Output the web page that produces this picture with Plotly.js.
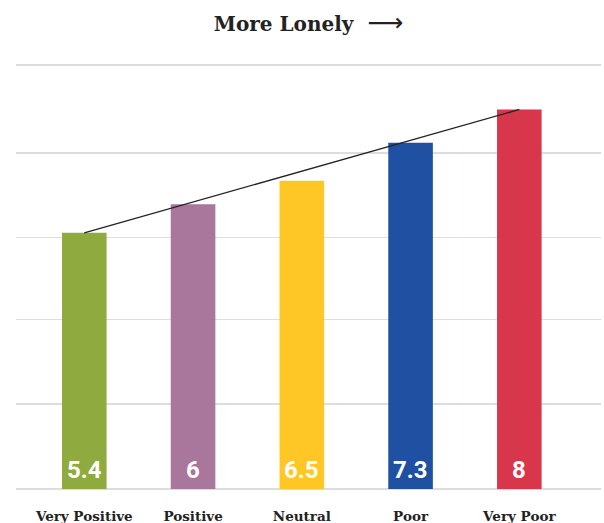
<!DOCTYPE html>
<html>
<head>
<meta charset="utf-8">
<script src="https://cdn.plot.ly/plotly-3.0.1.min.js"></script>
<style>html,body{margin:0;padding:0;background:#fff;}#chart{width:604px;height:523px;}</style>
</head>
<body>
<div id="chart"></div>
<script>
const categories = ["Very Positive", "Positive", "Neutral", "Poor", "Very Poor"];
const values = [5.4, 6, 6.5, 7.3, 8];
const barColors = ["#8FAA3E", "#A9769C", "#FFC726", "#1F50A2", "#D8364A"];
const gridVals = [0, 1.79, 3.57, 5.30, 7.08, 8.94];
const titleText = "More Lonely\u00A0\u00A0<span style=\"font-family:'DejaVu Sans';font-weight:400;font-size:25px\">\u27F6</span>";

const bars = {
  type: "bar",
  x: categories,
  y: values,
  width: 0.41,
  marker: {color: barColors},
  hoverinfo: "none",
  showlegend: false
};

const trend = {
  type: "scatter",
  mode: "lines",
  x: [categories[0], categories[categories.length - 1]],
  y: [values[0], values[values.length - 1]],
  line: {color: "#222222", width: 1.3},
  hoverinfo: "none",
  showlegend: false
};

const labels = categories.map((c, i) => ({
  x: c, y: 0, xref: "x", yref: "y",
  text: String(values[i]),
  showarrow: false,
  yanchor: "bottom",
  yshift: 3,
  font: {family: "Roboto, sans-serif", size: 24, color: "#ffffff", weight: 700}
}));

const layout = {
  width: 604, height: 523,
  margin: {l: 16, r: 3, t: 63, b: 34, pad: 0},
  paper_bgcolor: "#ffffff",
  plot_bgcolor: "#ffffff",
  title: {
    text: titleText,
    x: 0.5, xref: "paper", xanchor: "center",
    y: 0.954, yref: "container", yanchor: "middle",
    font: {family: "DejaVu Serif, serif", size: 20, color: "#222222", weight: 700}
  },
  xaxis: {
    type: "category",
    range: [-0.628, 4.751],
    showgrid: false, zeroline: false, showline: false,
    ticks: "", ticklabelstandoff: 17,
    tickfont: {family: "DejaVu Serif, serif", size: 13.5, color: "#222222", weight: 700}
  },
  yaxis: {
    range: [0, 8.98],
    tickmode: "array", tickvals: gridVals,
    showticklabels: false,
    showgrid: true, gridcolor: "#dddddd", gridwidth: 1.3,
    zeroline: true, zerolinecolor: "#dddddd", zerolinewidth: 1.3,
    showline: false, ticks: ""
  },
  annotations: labels,
  bargap: 0.59
};

Plotly.newPlot("chart", [bars, trend], layout, {staticPlot: true, displayModeBar: false});
</script>
</body>
</html>
